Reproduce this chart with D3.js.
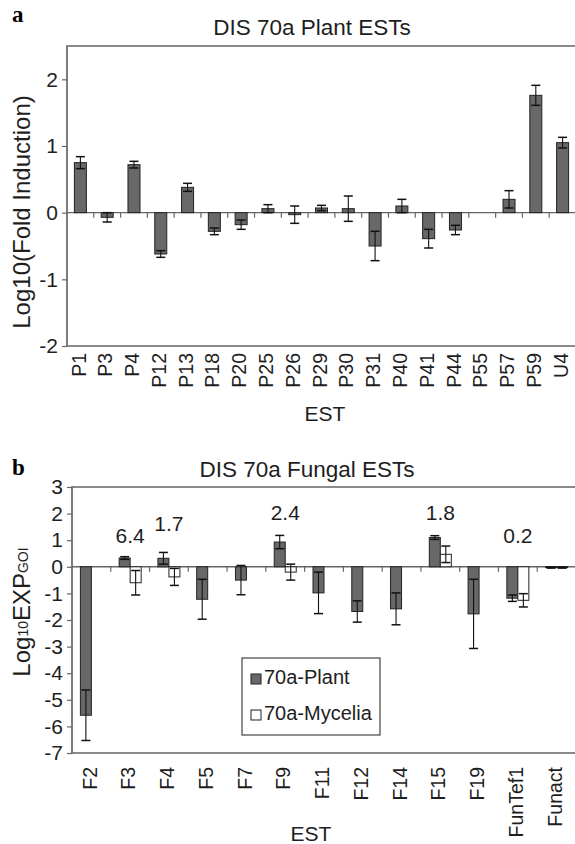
<!DOCTYPE html>
<html>
<head>
<meta charset="utf-8">
<script src="https://cdn.jsdelivr.net/npm/d3@7"></script>
<style>
  body { margin: 0; background: #fff; }
  svg { display: block; font-family: "Liberation Sans", Arial, sans-serif; }
</style>
</head>
<body>
<svg width="575" height="844"></svg>
<script>
// panel a: plant ESTs
const catsA = ["P1","P3","P4","P12","P13","P18","P20","P25","P26","P29","P30","P31","P40","P41","P44","P55","P57","P59","U4"];
const valsA = [0.75,-0.07,0.72,-0.62,0.38,-0.28,-0.18,0.06,-0.03,0.07,0.06,-0.5,0.1,-0.39,-0.26,0,0.2,1.76,1.05];
const errA  = [0.09,0.07,0.05,0.05,0.06,0.05,0.07,0.06,0.13,0.04,0.19,0.22,0.1,0.14,0.07,0,0.13,0.15,0.08];
const ticksA = [-2,-1,0,1,2];

// panel b: fungal ESTs, plant vs mycelia (null = no bar)
const catsB = ["F2","F3","F4","F5","F7","F9","F11","F12","F14","F15","F19","FunTef1","Funact"];
const plantB = [-5.58,0.33,0.32,-1.22,-0.5,0.93,-0.98,-1.68,-1.58,1.1,-1.77,-1.18,-0.03];
const plantErr = [0.95,0.05,0.22,0.75,0.55,0.25,0.78,0.4,0.6,0.07,1.3,0.12,0.02];
const mycB = [null,-0.6,-0.38,null,null,-0.2,null,null,null,0.47,null,-1.26,-0.03];
const mycErr = [0,0.46,0.32,0,0,0.3,0,0,0,0.31,0,0.25,0.02];
const ticksB = [-7,-6,-5,-4,-3,-2,-1,0,1,2,3];
const notes = [
  {cat: "F3", text: "6.4", level: 1.1},
  {cat: "F4", text: "1.7", level: 1.55},
  {cat: "F9", text: "2.4", level: 1.95},
  {cat: "F15", text: "1.8", level: 1.95},
  {cat: "FunTef1", text: "0.2", level: 1.1}
];

const svg = d3.select("svg");
const barFill = "#686868";
const frameCol = "#666";
const ink = "#1e1e1e";

function frame(g, x0, x1, y0, y1) {
  g.append("path")
    .attr("d", `M${x0},${y1}V${y0}H${x1}V${y1}Z`)
    .attr("fill", "none").attr("stroke", frameCol).attr("stroke-width", 1.7);
}

function errBar(g, cx, y, v, e, cap) {
  if (!e) return;
  const a = y(v - e), b = y(v + e);
  g.append("line").attr("x1", cx).attr("x2", cx).attr("y1", a).attr("y2", b)
    .attr("stroke", "#111").attr("stroke-width", 1.1);
  [a, b].forEach(yy => {
    g.append("line").attr("x1", cx - cap / 2).attr("x2", cx + cap / 2)
      .attr("y1", yy).attr("y2", yy).attr("stroke", "#111").attr("stroke-width", 1.5);
  });
}

function zeroLine(g, x, y, cats) {
  const r = x.range();
  g.append("line").attr("x1", r[0]).attr("x2", r[1]).attr("y1", y(0)).attr("y2", y(0))
    .attr("stroke", frameCol).attr("stroke-width", 1.4);
  cats.forEach((c, i) => {
    if (i === 0) return;
    const xx = x(c);
    g.append("line").attr("x1", xx).attr("x2", xx).attr("y1", y(0)).attr("y2", y(0) + 5)
      .attr("stroke", frameCol).attr("stroke-width", 1.2);
  });
}

function yAxis(g, x0, y, ticks) {
  const ax = g.append("g").attr("transform", `translate(${x0},0)`)
    .call(d3.axisLeft(y).tickValues(ticks).tickSize(5).tickPadding(4).tickFormat(d => String(d)));
  ax.select(".domain").remove();
  ax.selectAll(".tick line").attr("stroke", frameCol).attr("stroke-width", 1.2);
  ax.selectAll(".tick text").attr("font-size", 21).attr("fill", ink)
    .attr("font-family", "Liberation Sans, Arial, sans-serif");
}

function xLabels(g, x, yTop, cats) {
  g.selectAll("text.xl").data(cats).enter().append("text")
    .attr("class", "xl")
    .attr("transform", d => `translate(${x(d) + x.bandwidth() / 2},${yTop}) rotate(-90)`)
    .attr("text-anchor", "end").attr("dominant-baseline", "middle")
    .attr("font-size", 19.5).attr("fill", ink)
    .text(d => d);
}

// ---- panel a ----
const xA = d3.scaleBand().domain(catsA).range([67, 576]);
const yA = d3.scaleLinear().domain([-2, 2.5]).range([346, 46]);
const gA = svg.append("g");

frame(gA, 67, 576, 46, 346);
yAxis(gA, 67, yA, ticksA);
zeroLine(gA, xA, yA, catsA);

const wA = 12;
gA.selectAll("rect.bar").data(catsA.map((c, i) => ({c, v: valsA[i], e: errA[i]})).filter(d => d.v !== 0))
  .enter().append("rect").attr("class", "bar")
  .attr("x", d => xA(d.c) + xA.bandwidth() / 2 - wA / 2)
  .attr("width", wA)
  .attr("y", d => yA(Math.max(0, d.v)))
  .attr("height", d => Math.abs(yA(d.v) - yA(0)))
  .attr("fill", barFill).attr("stroke", "#222").attr("stroke-width", 1);
catsA.forEach((c, i) => errBar(gA, xA(c) + xA.bandwidth() / 2, yA, valsA[i], errA[i], 9));

xLabels(gA, xA, 353, catsA);

gA.append("text").attr("x", 312).attr("y", 35).attr("text-anchor", "middle")
  .attr("font-size", 22.5).attr("fill", ink).text("DIS 70a Plant ESTs");
gA.append("text").attr("x", 12).attr("y", 22)
  .attr("font-family", "Liberation Serif, serif").attr("font-weight", "bold")
  .attr("font-size", 23).text("a");
gA.append("text").attr("x", 325).attr("y", 421).attr("text-anchor", "middle")
  .attr("font-size", 21).attr("fill", ink).text("EST");
gA.append("text").attr("transform", "translate(24,212) rotate(-90)")
  .attr("text-anchor", "middle").attr("dominant-baseline", "middle")
  .attr("font-size", 24).attr("fill", ink).text("Log10(Fold Induction)");

// ---- panel b ----
const xB = d3.scaleBand().domain(catsB).range([72, 576]);
const yB = d3.scaleLinear().domain([-7, 3]).range([753, 487]);
const gB = svg.append("g");

frame(gB, 72, 576, 487, 753);
yAxis(gB, 72, yB, ticksB);
zeroLine(gB, xB, yB, catsB);

const wB = 11;
const seriesB = [
  {vals: plantB, errs: plantErr, fill: barFill, off: -wB},
  {vals: mycB, errs: mycErr, fill: "#fff", off: 0}
];
seriesB.forEach(s => {
  const data = catsB.map((c, i) => ({c, v: s.vals[i], e: s.errs[i]})).filter(d => d.v !== null);
  gB.append("g").selectAll("rect").data(data).enter().append("rect")
    .attr("x", d => xB(d.c) + xB.bandwidth() / 2 + s.off)
    .attr("width", wB)
    .attr("y", d => yB(Math.max(0, d.v)))
    .attr("height", d => Math.abs(yB(d.v) - yB(0)))
    .attr("fill", s.fill).attr("stroke", "#222").attr("stroke-width", 1);
  data.forEach(d => errBar(gB, xB(d.c) + xB.bandwidth() / 2 + s.off + wB / 2, yB, d.v, d.e, 9));
});

gB.selectAll("text.note").data(notes).enter().append("text").attr("class", "note")
  .attr("x", d => xB(d.cat) + xB.bandwidth() / 2)
  .attr("y", d => yB(d.level))
  .attr("text-anchor", "middle").attr("dominant-baseline", "middle")
  .attr("font-size", 21).attr("fill", ink).text(d => d.text);

xLabels(gB, xB, 767, catsB);

gB.append("text").attr("x", 307).attr("y", 477).attr("text-anchor", "middle")
  .attr("font-size", 22.5).attr("fill", ink).text("DIS 70a Fungal ESTs");
gB.append("text").attr("x", 12).attr("y", 475)
  .attr("font-family", "Liberation Serif, serif").attr("font-weight", "bold")
  .attr("font-size", 23).text("b");
gB.append("text").attr("x", 311).attr("y", 841).attr("text-anchor", "middle")
  .attr("font-size", 21).attr("fill", ink).text("EST");

const yl = gB.append("text").attr("transform", "translate(24,612) rotate(-90)")
  .attr("text-anchor", "middle").attr("dominant-baseline", "middle")
  .attr("font-size", 24).attr("fill", ink);
yl.append("tspan").text("Log");
yl.append("tspan").attr("font-size", 14).text("10");
yl.append("tspan").text("EXP");
yl.append("tspan").attr("font-size", 14).text("GOI");

// legend
const leg = gB.append("g");
leg.append("rect").attr("x", 242).attr("y", 658).attr("width", 138).attr("height", 77)
  .attr("fill", "#fff").attr("stroke", "#444").attr("stroke-width", 1.2);
const legItems = [{name: "70a-Plant", fill: barFill}, {name: "70a-Mycelia", fill: "#fff"}];
legItems.forEach((d, i) => {
  const yy = 679 + i * 36;
  leg.append("rect").attr("x", 251).attr("y", yy - 5).attr("width", 10).attr("height", 10)
    .attr("fill", d.fill).attr("stroke", "#222");
  leg.append("text").attr("x", 264).attr("y", yy).attr("dominant-baseline", "middle")
    .attr("font-size", 20).attr("fill", ink).text(d.name);
});
</script>
</body>
</html>
